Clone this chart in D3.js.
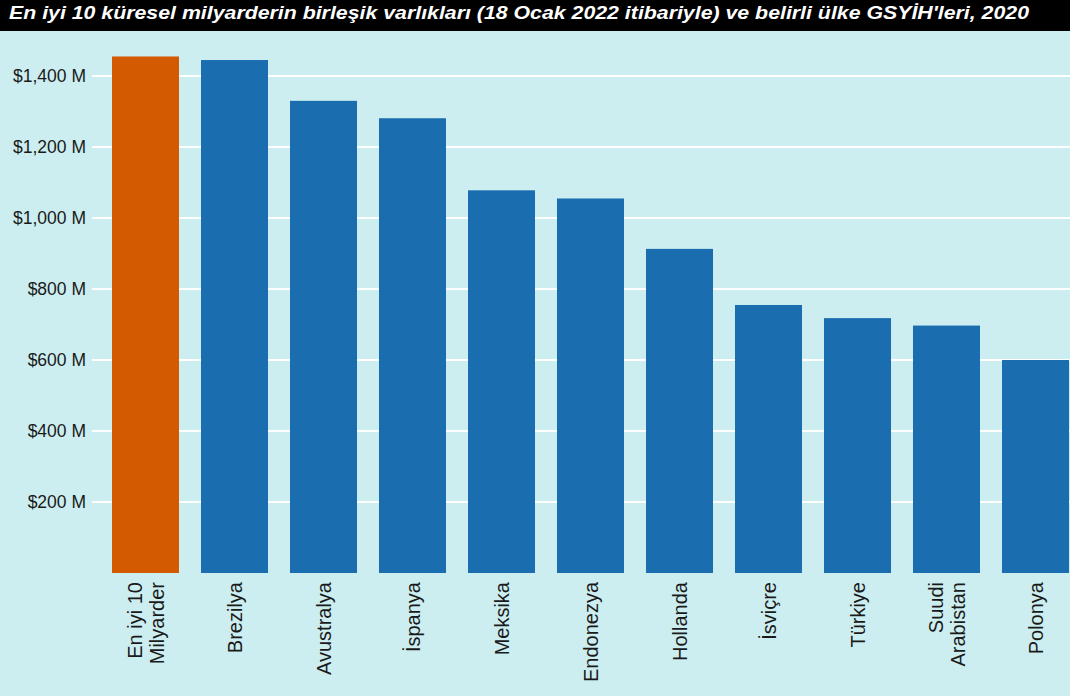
<!DOCTYPE html>
<html>
<head>
<meta charset="utf-8">
<script src="https://cdn.jsdelivr.net/npm/d3@7"></script>
<style>
  body { margin: 0; background: #cdeef1; }
  svg { display: block; }
</style>
</head>
<body>
<div id="chart"></div>
<script>
var titleText = "En iyi 10 küresel milyarderin birleşik varlıkları (18 Ocak 2022 itibariyle) ve belirli ülke GSYİH'leri, 2020"
var categories = ["En iyi 10\nMilyarder", "Brezilya", "Avustralya", "İspanya", "Meksika", "Endonezya",
  "Hollanda", "İsviçre", "Türkiye", "Suudi\nArabistan", "Polonya"]
var values = [1455, 1445, 1330, 1281, 1078, 1055, 913, 755, 718, 697, 600]
var tickValues = [200, 400, 600, 800, 1000, 1200, 1400]

var width = 1070, height = 696

var svg = d3.select("#chart").append("svg").attr("width", width).attr("height", height)

svg.append("rect").attr("width", width).attr("height", height).attr("fill", "#cdeef1")

// title bar
svg.append("rect").attr("x", 0).attr("y", 0).attr("width", width).attr("height", 31).attr("fill", "#000")
svg.append("text")
  .attr("x", 9).attr("y", 19)
  .attr("fill", "#fff")
  .attr("textLength", 1020)
  .attr("lengthAdjust", "spacingAndGlyphs")
  .style("font-family", "Liberation Sans, Arial, sans-serif")
  .style("font-weight", "bold")
  .style("font-style", "italic")
  .style("font-size", "18px")
  .text(titleText)

var xs = d3.scaleBand().domain(categories).range([101, 1080]).paddingInner(0.247).paddingOuter(0.1235)
var ys = d3.scaleLinear().domain([0, 1400]).range([573, 76])

// gridlines
svg.append("g").selectAll("line")
  .data(tickValues)
  .enter()
  .append("line")
  .attr("x1", 92).attr("x2", width)
  .attr("y1", d => ys(d)).attr("y2", d => ys(d))
  .attr("stroke", "#fff")
  .attr("stroke-width", 2)

// y axis labels
var yAxis = svg.append("g")
  .attr("transform", "translate(86,0)")
  .call(d3.axisLeft(ys).tickValues(tickValues).tickSize(0).tickPadding(0)
    .tickFormat(d => "$" + d3.format(",")(d) + " M"))
yAxis.select(".domain").remove()
yAxis.selectAll("text")
  .attr("fill", "#1a1a1a")
  .style("font-family", "Liberation Sans, Arial, sans-serif")
  .style("font-size", "17.5px")

// bars
svg.append("g").selectAll("rect")
  .data(categories)
  .enter()
  .append("rect")
  .attr("x", d => xs(d))
  .attr("width", xs.bandwidth())
  .attr("y", (d, i) => ys(values[i]))
  .attr("height", (d, i) => ys(0) - ys(values[i]))
  .attr("fill", (d, i) => i == 0 ? "#d35a00" : "#1a6eb0")

// x labels, rotated
var labels = svg.append("g").selectAll("text")
  .data(categories)
  .enter()
  .append("text")
  .attr("transform", d => "translate(" + (xs(d) + xs.bandwidth() / 2) + ",582) rotate(-90)")
  .attr("text-anchor", "end")
  .attr("fill", "#1a1a1a")
  .style("font-family", "Liberation Sans, Arial, sans-serif")
  .style("font-size", "20px")

labels.each(function (d) {
  var lines = d.split("\n")
  var el = d3.select(this)
  var start = 0.35 - (lines.length - 1) * 0.55
  lines.forEach(function (l, j) {
    el.append("tspan").attr("x", 0).attr("dy", (j == 0 ? start : 1.1) + "em").text(l)
  })
})
</script>
</body>
</html>
